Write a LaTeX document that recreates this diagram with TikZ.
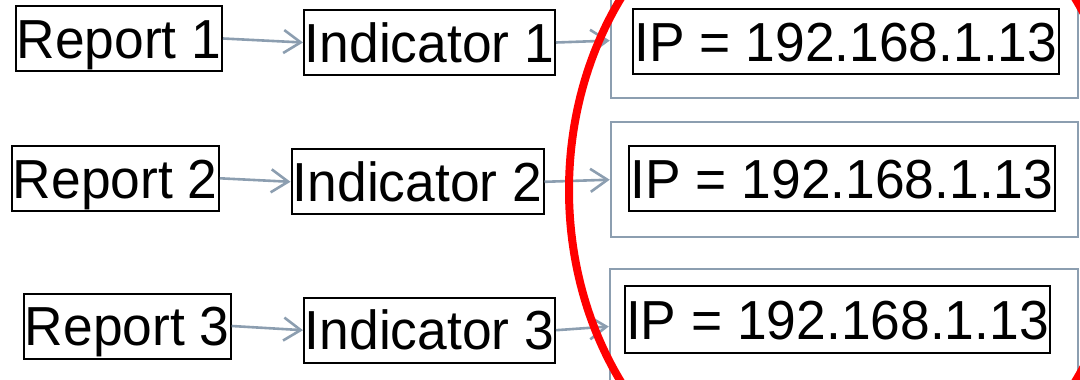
\documentclass[tikz,border=0pt]{standalone}
\usepackage{fontspec}
\setmainfont{Liberation Sans}[FakeStretch=0.97]
\usetikzlibrary{arrows.meta}
\definecolor{linkgray}{RGB}{140,158,176}
\begin{document}
\begin{tikzpicture}[x=1pt,y=-1pt,
  txtbox/.style={draw=black, line width=2pt, inner sep=0pt, minimum height=65pt,
    text height=39.4pt, text depth=0pt, font=\fontsize{55}{60}\selectfont},
  groupbox/.style={draw=linkgray, line width=2.5pt, inner sep=0pt},
  link/.style={draw=linkgray, line width=2.6pt, -{Straight Barb[length=17pt,width=23pt]}},
  ring/.style={draw=red, line width=8pt}]
\useasboundingbox (0,0) rectangle (1080,380);
\clip (0,0) rectangle (1080,380);
% outer grey boxes
\node[groupbox, minimum width=467pt, minimum height=115pt] (O1) at (844.5,40.6) {};
\node[groupbox, minimum width=467pt, minimum height=115pt] (O2) at (844.5,179.7) {};
\node[groupbox, minimum width=468pt, minimum height=115pt] (O3) at (844,326.5) {};
% IP boxes
\node[txtbox, minimum width=426pt] (IP1) at (846,41.8) {IP = 192.168.1.13};
\node[txtbox, minimum width=426pt] (IP2) at (842,178.3) {IP = 192.168.1.13};
\node[txtbox, minimum width=425pt, minimum height=67pt] (IP3) at (837.5,319.5) {IP = 192.168.1.13};
% reports
\node[txtbox, minimum width=206pt] (R1) at (119,38.5) {Report 1};
\node[txtbox, minimum width=207pt] (R2) at (115.3,178.3) {Report 2};
\node[txtbox, minimum width=207pt] (R3) at (127.2,326) {Report 3};
% indicators
\node[txtbox, minimum width=251pt] (I1) at (429.5,42.5) {Indicator 1};
\node[txtbox, minimum width=252pt] (I2) at (417.5,181.8) {Indicator 2};
\node[txtbox, minimum width=251pt] (I3) at (429.5,330.2) {Indicator 3};
% connectors
\draw[link] (R1.east) -- (I1.west);
\draw[link] (R2.east) -- (I2.west);
\draw[link] (R3.east) -- (I3.west);
\draw[link] (I1.east) -- (O1.west);
\draw[link] (I2.east) -- (O2.west);
\draw[link] (I3.east) -- (O3.west);
% red ellipse
\draw[ring] (848,190) ellipse [x radius=279, y radius=330];
\end{tikzpicture}
\end{document}
